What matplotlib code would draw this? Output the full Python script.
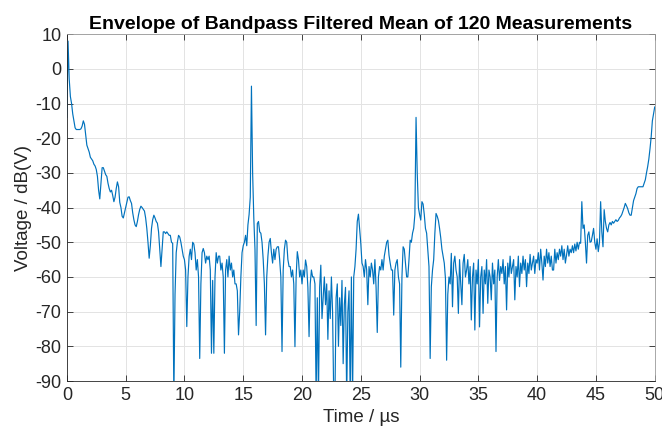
#library import
import matplotlib
matplotlib.use("Agg")
import matplotlib.pyplot as plt
import numpy as np

################################################################
#DATA - envelope values, one row per microsecond
#(10 samples per us, 0.1 us step), last value is t = 50 us
volt_db = [
    -14, 8, -3, -8, -10, -13, -15, -17, -17.5, -17.5,              #0
    -17.5, -17.5, -17.3, -16.5, -15, -16, -19, -22, -23, -24,       #1
    -25.5, -26, -26.5, -27.5, -28, -29, -31, -35, -37.5, -33,       #2
    -28.5, -28.5, -29.5, -30.5, -31, -33, -34.5, -35.5, -35, -36.5, #3
    -38.3, -37, -34.5, -32.6, -34, -38.5, -40, -42.5, -43, -41.5,   #4
    -40, -38.5, -37, -36.9, -38, -38.8, -41.5, -43.5, -45, -45.5,   #5
    -44, -42, -40.5, -39.6, -40, -40.5, -41, -43, -46, -50,         #6
    -54.6, -51, -46, -43.5, -42.2, -43, -44, -44.5, -47, -52,       #7
    -57, -52, -47, -47, -47.5, -47, -47.5, -48, -48, -50,           #8
    -50.3, -95, -65, -53, -50, -48, -48.5, -50, -52, -54,           #9
    -55, -58, -74.3, -60, -54, -52, -55, -50, -50.5, -53,           #10
    -58, -55, -60, -83.5, -62, -53, -51.8, -53, -56, -54,           #11
    -55, -54, -58, -82, -61, -82, -60, -53, -56, -54,               #12
    -54, -58, -56, -60, -82, -58, -55, -60, -54, -58,               #13
    -56, -60, -58, -62, -62, -64, -76.7, -70, -60, -53,             #14
    -51, -50, -48, -51, -45, -42, -37, -5, -30, -43,                #15
    -52, -74, -44.6, -44, -47, -47.4, -50, -55, -62, -76.7,         #16
    -60, -54, -50, -48.9, -53, -56, -52, -55, -52, -51.3,           #17
    -51.3, -55, -60, -81.5, -58, -52, -49.4, -50, -55, -57,         #18
    -57, -60, -58, -62, -80.1, -60, -52.7, -55, -60, -58,           #19
    -62, -58, -60, -55.1, -57, -63, -77.2, -62, -58, -60,           #20
    -60, -62, -95, -66, -95, -63, -56.6, -72, -66, -60,             #21
    -68, -62, -78, -64, -72, -60, -70, -95, -95, -66,               #22
    -62, -80, -66, -74, -61, -85, -68, -63, -95, -70,               #23
    -64, -95, -60, -95, -60, -57, -52, -44, -41.9, -46,             #24
    -50.3, -56, -57, -60, -55, -58, -68, -57, -60, -56,             #25
    -58, -62, -55, -63, -76, -60, -57, -58, -55, -58,               #26
    -54, -52, -50, -49.4, -53.7, -56, -58, -58, -71, -58,           #27
    -56, -55, -60, -62, -86, -60, -51.3, -52, -56, -60,             #28
    -60, -55, -49.4, -50, -47.4, -46, -42, -14, -30, -40,           #29
    -42, -43.6, -38.3, -39, -42, -46, -47.4, -52, -57, -83.5,       #30
    -62.8, -58, -55, -47.4, -41.7, -42.5, -43.7, -46, -48.7, -52,   #31
    -54, -56, -60.4, -84, -65, -60, -62, -53.2, -68.6, -56,         #32
    -54, -58, -60, -70.5, -55, -62, -68, -56, -53.5, -60,           #33
    -58, -55, -62, -57, -72.4, -60, -56, -75.3, -58, -62,           #34
    -55, -74.4, -60, -57, -70.5, -58, -62, -55, -67.6, -58,         #35
    -60, -66.6, -56, -62, -58, -81.5, -60, -55, -61, -57,           #36
    -59, -55, -62, -57, -69.5, -56, -60, -54, -59, -57,             #37
    -55, -66.6, -57, -60, -54, -62.8, -56, -59, -54, -58,           #38
    -55, -62.8, -56, -59, -53.5, -58, -56, -54, -59, -55,           #39
    -56, -53, -58, -52, -56, -60.9, -54, -57, -52, -56,             #40
    -53, -57, -54, -58, -58, -52, -56, -53, -55, -52,               #41
    -54, -51, -55, -52, -56, -53.7, -51, -54, -52, -53,             #42
    -51, -53, -50.5, -52.5, -50, -52, -50, -50.3, -38.3, -46,       #43
    -45, -50, -56, -48, -47, -50, -49.8, -48, -46, -50,             #44
    -52, -49, -52.7, -50, -38.3, -47, -51.3, -40.6, -44, -46,       #45
    -47, -45, -44.3, -45, -44, -44.5, -44, -43.5, -44, -43.7,       #46
    -43, -42.6, -42, -41, -40, -38.8, -39.5, -40.3, -41.5, -42.2,   #47
    -42.2, -40, -38, -37, -36, -34.5, -34, -34, -34, -34,           #48
    -34, -33, -32, -30, -28.2, -26, -23, -19.6, -15, -13,           #49
    -11,                                                            #50
]
#sample times in us
time_us = np.linspace(0, 50, len(volt_db))

xtick_vals = [0, 5, 10, 15, 20, 25, 30, 35, 40, 45, 50]
ytick_vals = [-90, -80, -70, -60, -50, -40, -30, -20, -10, 0, 10]
################################################################

################################################################
#FIGURE CONFIGURATION
fig_c = '#0072BD'     #line color (matlab default blue)
fig_lw = 0.85         #line width
grid_c = '#e3e3e3'    #grid line color
grid_lw = 0.7         #grid line width
axis_c = '#262626'    #axis color
plt.rcParams['font.family'] = ['Liberation Sans', 'DejaVu Sans']
plt.rcParams['axes.unicode_minus'] = False   #plain hyphen like matlab
################################################################

fig = plt.figure(figsize=(6.62, 4.32), dpi=100)
ax = fig.add_axes([0.101, 0.118, 0.888, 0.803])

ax.plot(time_us, volt_db, color=fig_c, lw=fig_lw)

ax.set_xlim(0, 50)
ax.set_ylim(-90, 10)
ax.set_xticks(xtick_vals)
ax.set_yticks(ytick_vals)
ax.grid(True, color=grid_c, lw=grid_lw)
ax.set_axisbelow(True)

ax.tick_params(direction='in', length=4, width=0.6, colors=axis_c,
               labelsize=13, top=True, right=True, pad=4)
for side in ['left', 'bottom']:
    ax.spines[side].set_color(axis_c)
    ax.spines[side].set_linewidth(0.6)
for side in ['top', 'right']:
    ax.spines[side].set_color('#9a9a9a')
    ax.spines[side].set_linewidth(0.6)

ax.set_xlabel("Time / µs", fontsize=13.5, color=axis_c, labelpad=4)
ax.set_ylabel("Voltage / dB(V)", fontsize=13.5, color=axis_c, labelpad=2)
ax.set_title("Envelope of Bandpass Filtered Mean of 120 Measurements",
             fontsize=14, fontweight='bold', pad=4)

fig.savefig("out.png", dpi=100)
